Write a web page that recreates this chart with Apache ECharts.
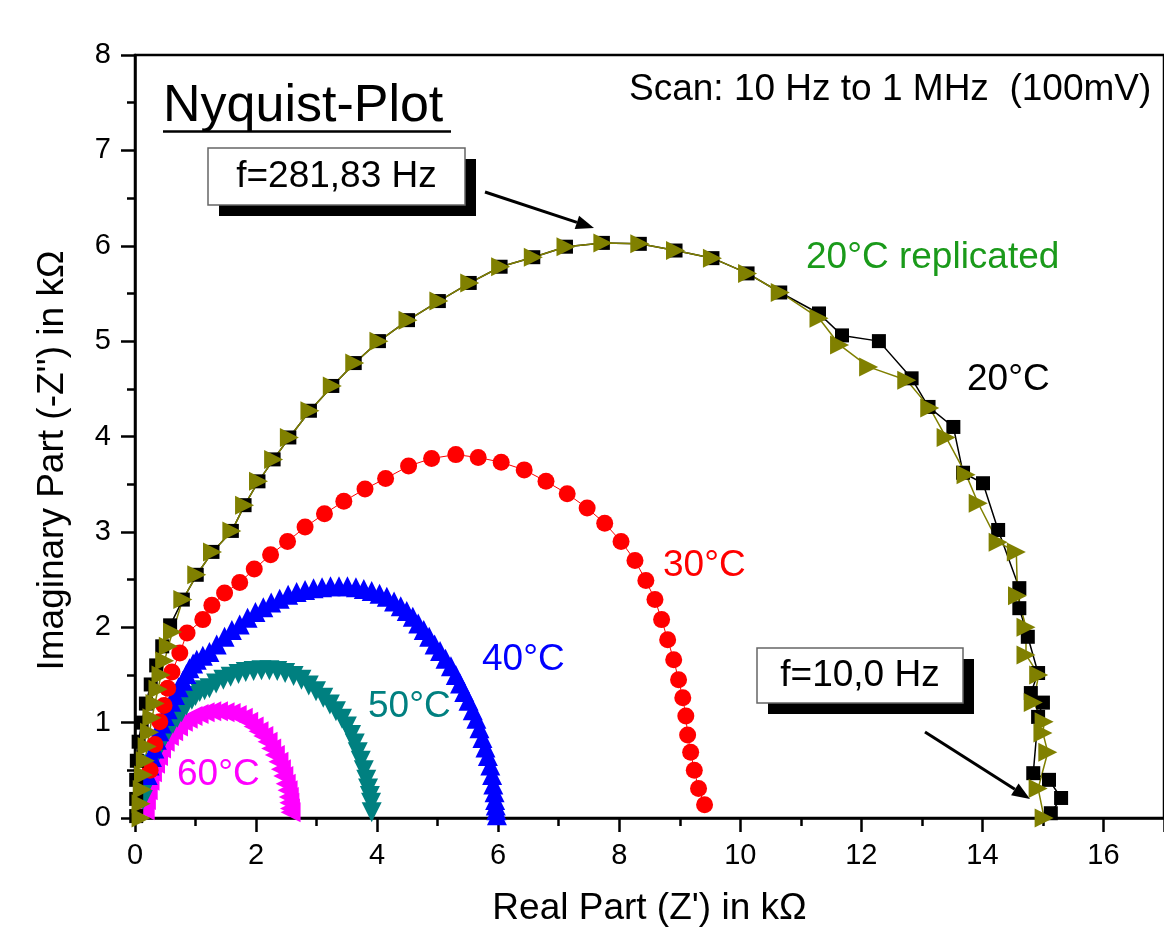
<!DOCTYPE html>
<html>
<head>
<meta charset="utf-8">
<script src="https://cdn.jsdelivr.net/npm/echarts@6/dist/echarts.min.js"></script>
<style>
  html, body { margin: 0; padding: 0; background: #fff; }
  #chart { width: 1164px; height: 937px; }
</style>
</head>
<body>
<div id="chart"></div>
<script>
// Nyquist plot, values in kOhm: [Z', -Z'']
const t20 = [
  [0.02, 0.02], [0.02, 0.2], [0.02, 0.4], [0.03, 0.6], [0.06, 0.8], [0.11, 1.0], [0.18, 1.2],
  [0.26, 1.4], [0.35, 1.6], [0.45, 1.8], [0.58, 2.02], [0.79, 2.29], [1.02, 2.55], [1.28, 2.79],
  [1.6, 3.01], [1.81, 3.28], [2.04, 3.53], [2.29, 3.76], [2.55, 3.99], [2.89, 4.27], [3.26, 4.53],
  [3.63, 4.77], [4.03, 5.0], [4.51, 5.22], [5.02, 5.42], [5.53, 5.61], [6.04, 5.78], [6.58, 5.88],
  [7.12, 5.99], [7.73, 6.03], [8.34, 6.02], [8.93, 5.95], [9.54, 5.87], [10.12, 5.71], [10.66, 5.51],
  [11.3, 5.29], [11.68, 5.06], [12.29, 5.0], [12.83, 4.61], [13.11, 4.31], [13.52, 4.1], [13.68, 3.62],
  [14.01, 3.51], [14.26, 3.02], [14.61, 2.41], [14.61, 2.2], [14.75, 1.9], [14.92, 1.52], [14.8, 1.31],
  [15.0, 1.21], [14.92, 1.06], [14.84, 0.47], [15.1, 0.4], [15.3, 0.21], [15.13, 0.05]
]
const t20r = [
  [0.1, 0.0], [0.1, 0.15], [0.12, 0.3], [0.14, 0.45], [0.17, 0.6], [0.2, 0.75], [0.24, 0.9],
  [0.28, 1.05], [0.33, 1.2], [0.38, 1.35], [0.43, 1.5], [0.49, 1.65], [0.55, 1.8], [0.62, 1.95],
  [0.79, 2.29], [1.02, 2.55], [1.28, 2.79], [1.6, 3.01], [1.81, 3.28], [2.04, 3.53], [2.29, 3.76],
  [2.55, 3.99], [2.89, 4.27], [3.26, 4.53], [3.63, 4.77], [4.03, 5.0], [4.51, 5.22], [5.02, 5.42],
  [5.53, 5.61], [6.04, 5.78], [6.58, 5.88], [7.12, 5.99], [7.73, 6.03], [8.34, 6.02], [8.93, 5.95],
  [9.54, 5.87], [10.12, 5.71], [10.66, 5.51], [11.3, 5.24], [11.64, 4.96], [12.12, 4.73], [12.75, 4.59],
  [13.13, 4.3], [13.4, 3.99], [13.73, 3.6], [13.93, 3.3], [14.26, 2.89], [14.56, 2.79], [14.58, 2.33],
  [14.72, 2.0], [14.72, 1.71], [14.93, 1.5], [14.84, 1.21], [15.02, 1.01], [15.0, 0.89], [15.08, 0.69],
  [14.92, 0.31], [15.02, 0.0]
]
const t30 = [
  [0.25, 0.5], [0.33, 0.77], [0.41, 1.01], [0.48, 1.18], [0.54, 1.36], [0.61, 1.53], [0.74, 1.73],
  [0.86, 1.94], [1.12, 2.08], [1.27, 2.23], [1.48, 2.36], [1.73, 2.47], [1.97, 2.61], [2.24, 2.76],
  [2.52, 2.9], [2.81, 3.05], [3.13, 3.19], [3.45, 3.32], [3.8, 3.45], [4.14, 3.56], [4.52, 3.69],
  [4.9, 3.77], [5.3, 3.81], [5.67, 3.78], [6.05, 3.73], [6.43, 3.65], [6.79, 3.53], [7.14, 3.4],
  [7.47, 3.25], [7.76, 3.09], [8.03, 2.9], [8.26, 2.7], [8.44, 2.49], [8.59, 2.29], [8.7, 2.08],
  [8.8, 1.87], [8.9, 1.66], [8.98, 1.45], [9.05, 1.26], [9.1, 1.07], [9.13, 0.87], [9.18, 0.69],
  [9.24, 0.5], [9.31, 0.31], [9.41, 0.14]
]
const t40 = [
  [0.21, 0.45], [0.24, 0.55], [0.28, 0.64], [0.32, 0.73], [0.36, 0.82], [0.4, 0.91], [0.44, 0.99],
  [0.49, 1.07], [0.54, 1.14], [0.6, 1.22], [0.66, 1.29], [0.72, 1.37], [0.79, 1.44], [0.85, 1.51],
  [0.9, 1.57], [0.96, 1.62], [1.02, 1.66], [1.12, 1.7], [1.23, 1.74], [1.35, 1.82], [1.48, 1.9],
  [1.6, 1.97], [1.73, 2.03], [1.86, 2.1], [1.99, 2.16], [2.12, 2.21], [2.25, 2.26], [2.39, 2.3],
  [2.53, 2.34], [2.67, 2.37], [2.81, 2.39], [2.95, 2.41], [3.09, 2.42], [3.23, 2.43], [3.37, 2.43],
  [3.51, 2.43], [3.65, 2.42], [3.78, 2.4], [3.91, 2.38], [4.04, 2.35], [4.16, 2.32], [4.28, 2.27],
  [4.39, 2.22], [4.49, 2.17], [4.59, 2.11], [4.68, 2.04], [4.77, 1.97], [4.86, 1.9], [4.95, 1.82],
  [5.04, 1.75], [5.13, 1.67], [5.22, 1.59], [5.3, 1.5], [5.37, 1.41], [5.44, 1.32], [5.51, 1.23],
  [5.58, 1.13], [5.64, 1.04], [5.69, 0.94], [5.74, 0.84], [5.79, 0.74], [5.83, 0.65], [5.87, 0.55],
  [5.9, 0.45], [5.92, 0.35], [5.94, 0.27], [5.95, 0.19], [5.96, 0.13], [5.97, 0.08], [5.98, 0.03]
]
const t50 = [
  [0.13, 0.19], [0.16, 0.29], [0.2, 0.38], [0.24, 0.47], [0.28, 0.56], [0.33, 0.64], [0.38, 0.71],
  [0.43, 0.78], [0.49, 0.85], [0.56, 0.92], [0.63, 0.99], [0.7, 1.05], [0.77, 1.11], [0.85, 1.18],
  [0.94, 1.24], [1.0, 1.28], [1.07, 1.32], [1.15, 1.34], [1.23, 1.36], [1.34, 1.41], [1.46, 1.45],
  [1.58, 1.48], [1.71, 1.51], [1.83, 1.53], [1.96, 1.54], [2.09, 1.55], [2.22, 1.55], [2.35, 1.54],
  [2.48, 1.52], [2.62, 1.49], [2.75, 1.45], [2.87, 1.39], [2.99, 1.33], [3.11, 1.26], [3.22, 1.19],
  [3.32, 1.12], [3.42, 1.04], [3.5, 0.96], [3.57, 0.87], [3.63, 0.78], [3.68, 0.69], [3.73, 0.6],
  [3.78, 0.5], [3.82, 0.4], [3.85, 0.31], [3.88, 0.23], [3.9, 0.16], [3.91, 0.06]
]
const t60 = [
  [0.16, 0.08], [0.18, 0.19], [0.21, 0.29], [0.24, 0.39], [0.28, 0.48], [0.33, 0.57], [0.38, 0.65],
  [0.43, 0.73], [0.49, 0.8], [0.56, 0.86], [0.63, 0.91], [0.71, 0.96], [0.79, 1.01], [0.87, 1.04],
  [0.95, 1.07], [1.05, 1.09], [1.15, 1.11], [1.26, 1.12], [1.37, 1.12], [1.48, 1.11], [1.58, 1.1],
  [1.68, 1.08], [1.78, 1.05], [1.87, 1.01], [1.96, 0.96], [2.04, 0.91], [2.12, 0.86], [2.19, 0.8],
  [2.25, 0.73], [2.31, 0.66], [2.37, 0.59], [2.41, 0.51], [2.45, 0.44], [2.49, 0.36], [2.52, 0.29],
  [2.54, 0.22], [2.55, 0.16], [2.56, 0.1], [2.57, 0.06]
]

const FONT = 'Liberation Sans, Arial, sans-serif'
const chart = echarts.init(document.getElementById('chart'))

function txt(text, x, y, color, size, align) {
  return {
    type: 'text', x: x, y: y, z: 100,
    style: { text: text, fill: color, font: size + 'px ' + FONT, align: align || 'left', verticalAlign: 'middle' }
  }
}
// note box with black drop shadow
function box(x, y, w, h, text) {
  return [
    { type: 'rect', z: 100, shape: { x: x + 11, y: y + 11, width: w, height: h }, style: { fill: '#000' } },
    { type: 'rect', z: 101, shape: { x: x, y: y, width: w, height: h }, style: { fill: '#fff', stroke: '#666', lineWidth: 1.5 } },
    { type: 'text', z: 102, x: x + w / 2, y: y + h / 2, style: { text: text, fill: '#000', font: '37px ' + FONT, align: 'center', verticalAlign: 'middle' } }
  ]
}
function arrow(x1, y1, x2, y2) {
  const a = Math.atan2(y2 - y1, x2 - x1)
  const L = 18, W = 7
  const bx = x2 - L * Math.cos(a), by = y2 - L * Math.sin(a)
  return [
    { type: 'line', z: 100, shape: { x1: x1, y1: y1, x2: bx, y2: by }, style: { stroke: '#000', lineWidth: 3 } },
    { type: 'polygon', z: 100, shape: { points: [[x2, y2], [bx - W * Math.sin(a), by + W * Math.cos(a)], [bx + W * Math.sin(a), by - W * Math.cos(a)]] }, style: { fill: '#000' } }
  ]
}

function ser(name, data, color, symbol, size, rotate, lw) {
  return {
    name: name, type: 'line', data: data,
    symbol: symbol, symbolSize: size, symbolRotate: rotate,
    showSymbol: true, animation: false,
    lineStyle: { color: color, width: lw },
    itemStyle: { color: color }
  }
}

chart.setOption({
  animation: false,
  backgroundColor: '#fff',
  grid: { left: 135, top: 55, right: -2, bottom: 119, show: true, borderColor: '#000', borderWidth: 2.5 },
  xAxis: {
    type: 'value', min: 0, max: 17, interval: 2,
    name: "Real Part (Z') in kΩ", nameLocation: 'middle', nameGap: 72,
    nameTextStyle: { fontSize: 37, color: '#000', fontFamily: FONT },
    axisLine: { lineStyle: { color: '#000', width: 2.5 } },
    axisTick: { length: 14, lineStyle: { color: '#000', width: 2.5 } },
    minorTick: { show: true, splitNumber: 2, length: 8, lineStyle: { color: '#000', width: 2.5 } },
    axisLabel: { fontSize: 29, color: '#000', fontFamily: FONT, margin: 23, showMaxLabel: false },
    splitLine: { show: false }
  },
  yAxis: {
    type: 'value', min: 0, max: 8, interval: 1,
    name: "Imaginary Part (-Z'') in kΩ", nameLocation: 'middle', nameGap: 64,
    nameTextStyle: { fontSize: 37, color: '#000', fontFamily: FONT, padding: [0, 48, 0, 0] },
    axisLine: { lineStyle: { color: '#000', width: 2.5 } },
    axisTick: { length: 14, lineStyle: { color: '#000', width: 2.5 } },
    minorTick: { show: true, splitNumber: 2, length: 8, lineStyle: { color: '#000', width: 2.5 } },
    axisLabel: { fontSize: 29, color: '#000', fontFamily: FONT, margin: 24 },
    splitLine: { show: false }
  },
  series: [
    ser('60°C', t60, '#ff00ff', 'triangle', 20, 90, 1),
    ser('50°C', t50, '#008080', 'triangle', 20, 180, 1),
    ser('40°C', t40, '#0000ff', 'triangle', 20, 0, 1),
    ser('30°C', t30, '#ff0000', 'circle', 17, 0, 1),
    ser('20°C', t20, '#000000', 'rect', 14, 0, 1.5),
    ser('20°C replicated', t20r, '#808000', 'triangle', 19, -90, 1.5)
  ],
  graphic: [
    txt('Nyquist-Plot', 163, 107, '#000', 52),
    { type: 'line', z: 100, shape: { x1: 163, y1: 131.5, x2: 451, y2: 131.5 }, style: { stroke: '#000', lineWidth: 2.5 } },
    txt('Scan: 10 Hz to 1 MHz  (100mV)', 629, 90, '#000', 37),
    ...box(208, 148, 257, 57, 'f=281,83 Hz'),
    ...arrow(485, 192, 594, 228),
    ...box(757, 648, 206, 55, 'f=10,0 Hz'),
    ...arrow(925, 732, 1030, 799),
    txt('20°C replicated', 806, 258, '#1a9a1a', 37),
    txt('20°C', 967, 380, '#000', 37),
    txt('30°C', 663, 566, '#ff0000', 37),
    txt('40°C', 482, 660, '#0000ff', 37),
    txt('50°C', 368, 707, '#008080', 37),
    txt('60°C', 177, 775, '#ff00ff', 37)
  ]
})
</script>
</body>
</html>
